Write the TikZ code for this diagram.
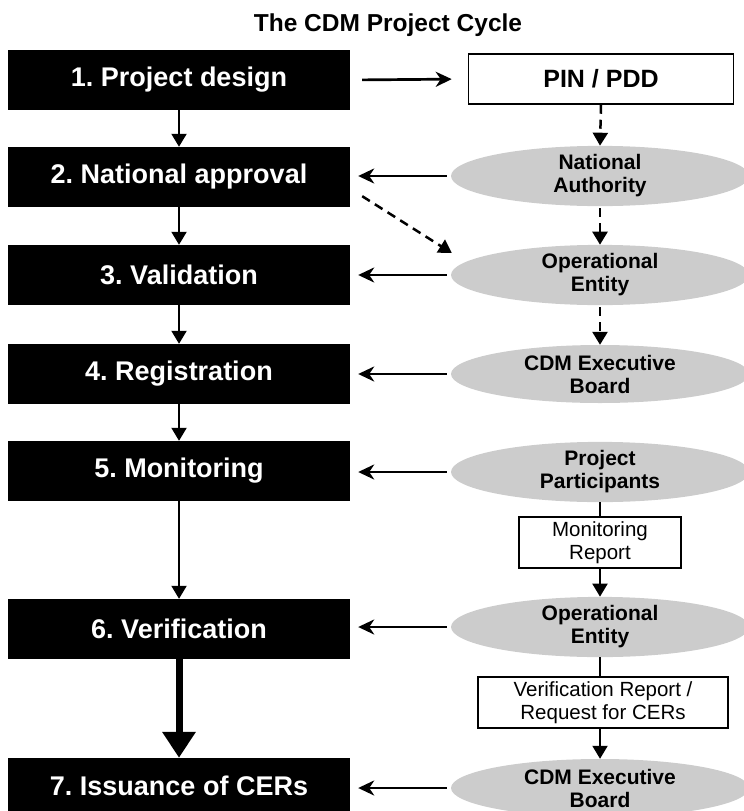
\documentclass[tikz,border=0pt]{standalone}
\usepackage{fontspec}
\setmainfont{Liberation Sans}
\usetikzlibrary{shapes.geometric,arrows.meta}
\definecolor{ellgray}{gray}{0.80}
\frenchspacing
\begin{document}
\begin{tikzpicture}[x=1pt,y=1pt,
  blk/.style={fill=black,text=white,font=\bfseries\fontsize{27}{30}\selectfont,minimum width=342pt,minimum height=60pt,inner sep=0pt},
  ell/.style={ellipse,fill=ellgray,minimum width=298pt,minimum height=58pt,inner sep=0pt,font=\bfseries\fontsize{21}{23}\selectfont,align=center},
  wbox/.style={draw,line width=1.5pt,fill=white,inner sep=0pt,align=center},
  varrow/.style={line width=2pt,-{Triangle[length=13pt,width=15pt]}},
  bigarrow/.style={line width=7pt,-{Triangle[length=26pt,width=32pt]}},
  harrow/.style={line width=2.7pt,-{Stealth[length=16pt,width=15pt,inset=5pt]}},
  darrow/.style={line width=2.5pt,dash pattern=on 9pt off 6pt,-{Triangle[length=13pt,width=15pt]}},
  plain/.style={line width=2pt}
]
\useasboundingbox (0,0) rectangle (744,-811);
\node[font=\bfseries\fontsize{24.5}{28}\selectfont] (title) at (388,-25) {The CDM Project Cycle};
% left column
\node[blk] (b1) at (179,-80) {1. Project design};
\node[blk] (b2) at (179,-177) {2. National approval};
\node[blk] (b3) at (179,-275) {3. Validation};
\node[blk] (b4) at (179,-374) {4. Registration};
\node[blk] (b5) at (179,-471) {5. Monitoring};
\node[blk] (b6) at (179,-629) {6. Verification};
\node[blk,minimum height=56pt] (b7) at (179,-786) {7. Issuance of CERs};
% right column
\node[wbox,minimum width=265pt,minimum height=50pt,font=\bfseries\fontsize{25}{28}\selectfont] (pin) at (601,-79) {PIN / PDD};
\node[ell] (na) at (600,-176) {National\\Authority};
\node[ell] (oe1) at (600,-275) {Operational\\Entity};
\node[ell] (eb1) at (600,-374) {CDM Executive\\Board};
\node[ell] (pp) at (600,-472) {Project\\Participants};
\node[wbox,minimum width=162pt,minimum height=51pt,font=\fontsize{20.5}{23}\selectfont] (mr) at (600,-542.5) {Monitoring\\Report};
\node[ell] (oe2) at (600,-627) {Operational\\Entity};
\node[wbox,minimum width=250pt,minimum height=51pt,font=\fontsize{20.5}{23}\selectfont] (vr) at (603,-702.5) {Verification Report /\\Request for CERs};
\node[ell] (eb2) at (600,-788) {CDM Executive\\Board};
% left vertical arrows
\draw[varrow] (b1.south) -- (b2.north);
\draw[varrow] (b2.south) -- (b3.north);
\draw[varrow] (b3.south) -- (b4.north);
\draw[varrow] (b4.south) -- (b5.north);
\draw[varrow] (b5.south) -- (b6.north);
\draw[bigarrow] (b6.south) -- (b7.north);
% horizontal arrows
\draw[harrow,shorten <=12pt,shorten >=16pt] (b1.east) -- (pin.west);
\draw[harrow,shorten <=4pt,shorten >=8pt] (na.west) -- (b2.east |- na.west);
\draw[harrow,shorten <=4pt,shorten >=8pt] (oe1.west) -- (b3.east);
\draw[harrow,shorten <=4pt,shorten >=8pt] (eb1.west) -- (b4.east);
\draw[harrow,shorten <=4pt,shorten >=8pt] (pp.west) -- (b5.east |- pp.west);
\draw[harrow,shorten <=4pt,shorten >=8pt] (oe2.west) -- (b6.east |- oe2.west);
\draw[harrow,shorten <=4pt,shorten >=8pt] (eb2.west) -- (b7.east |- eb2.west);
% right vertical connectors
\draw[darrow] (pin.south) -- (na.north);
\draw[darrow,shorten <=2pt] (na.south) -- (oe1.north);
\draw[darrow,shorten <=2pt] (oe1.south) -- (eb1.north);
\draw[darrow] ([xshift=12pt,yshift=11pt]b2.south east) -- ([xshift=1pt,yshift=22pt]oe1.west);
\draw[plain] (pp.south) -- (mr.north -| pp.south);
\draw[varrow] (mr.south -| oe2.north) -- (oe2.north);
\draw[plain] (oe2.south) -- (vr.north -| oe2.south);
\draw[varrow] (vr.south -| eb2.north) -- (eb2.north);
\end{tikzpicture}
\end{document}
